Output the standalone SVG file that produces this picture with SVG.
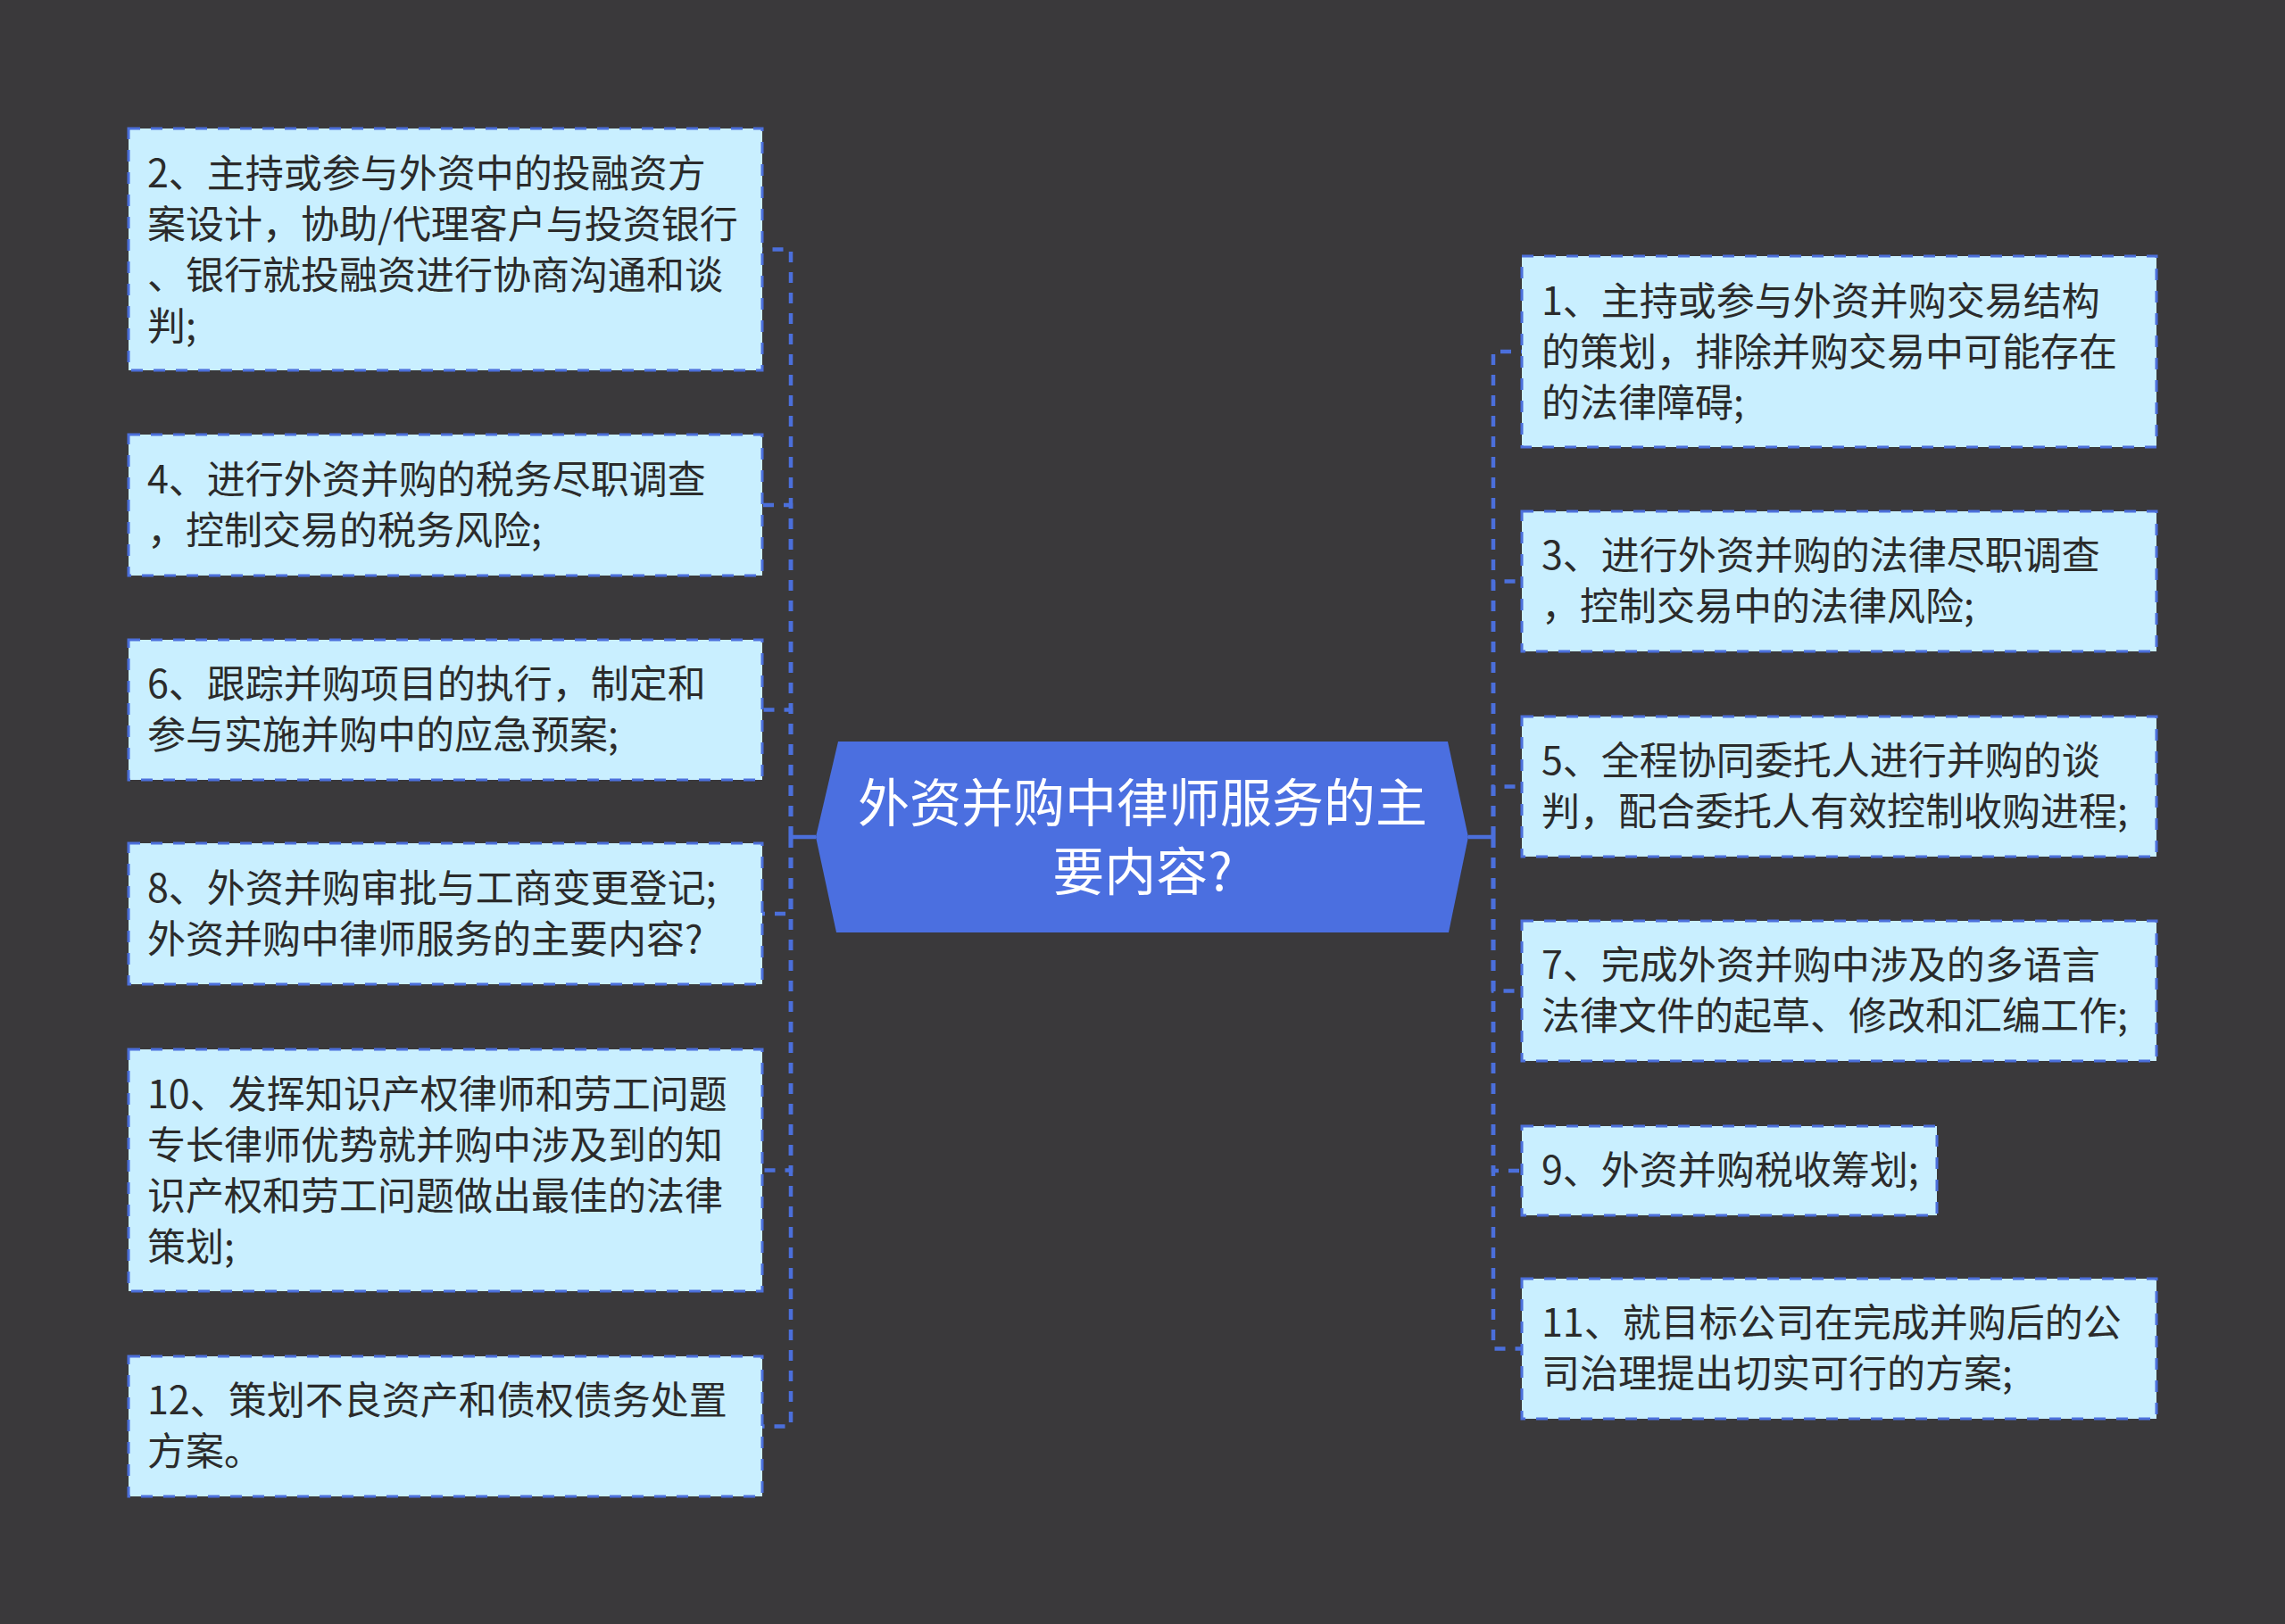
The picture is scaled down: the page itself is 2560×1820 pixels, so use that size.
<svg xmlns="http://www.w3.org/2000/svg" width="2560" height="1820" viewBox="0 0 2560 1820">
<style>
.bg{fill:#3a393b}
.box{fill:#c9efff;stroke:#4b6fdb;stroke-width:3;stroke-dasharray:13 12}
.t{font-family:"Noto Sans CJK SC","Noto Sans",sans-serif;font-size:43px;fill:#2b2b2b}
.ct{font-family:"Noto Sans CJK SC","Noto Sans",sans-serif;font-size:58px;fill:#ffffff;text-anchor:middle}
.c{fill:none;stroke:#4b6fdb;stroke-width:4.5;stroke-dasharray:12 11}
.trunk{fill:none;stroke:#4b6fdb;stroke-width:4.5}
.center{fill:#4b6fe0}
</style>
<rect class="bg" x="0" y="0" width="2560" height="1820"/>
<g id="connectors">
<line class="trunk" x1="914" y1="938" x2="886" y2="938"/>
<line class="trunk" x1="1645" y1="938" x2="1673" y2="938"/>
<path class="c" d="M886,938 V279.5 H854"/>
<path class="c" d="M886,938 V566 H854"/>
<path class="c" d="M886,938 V795.5 H854"/>
<path class="c" d="M886,938 V1024 H854"/>
<path class="c" d="M886,938 V1311.5 H854"/>
<path class="c" d="M886,938 V1598.5 H854"/>
<path class="c" d="M1673,938 V394 H1705"/>
<path class="c" d="M1673,938 V651.5 H1705"/>
<path class="c" d="M1673,938 V881.5 H1705"/>
<path class="c" d="M1673,938 V1110.5 H1705"/>
<path class="c" d="M1673,938 V1312 H1705"/>
<path class="c" d="M1673,938 V1511.5 H1705"/>
</g>
<g id="root">
<polygon class="center" points="939,831 1622,831 1645,938 1623,1045 937,1045 914,938"/>
<text class="ct" x="1280" y="921">外资并购中律师服务的主</text>
<text class="ct" x="1280" y="998">要内容?</text>
</g>
<g id="n2">
<rect class="box" x="144" y="144" width="710" height="271"/>
<text class="t" x="165" y="210">2、主持或参与外资中的投融资方</text>
<text class="t" x="165" y="267">案设计，协助/代理客户与投资银行</text>
<text class="t" x="165" y="324">、银行就投融资进行协商沟通和谈</text>
<text class="t" x="165" y="381">判;</text>
</g>
<g id="n4">
<rect class="box" x="144" y="487" width="710" height="158"/>
<text class="t" x="165" y="553">4、进行外资并购的税务尽职调查</text>
<text class="t" x="165" y="610">，控制交易的税务风险;</text>
</g>
<g id="n6">
<rect class="box" x="144" y="717" width="710" height="157"/>
<text class="t" x="165" y="782">6、跟踪并购项目的执行，制定和</text>
<text class="t" x="165" y="839">参与实施并购中的应急预案;</text>
</g>
<g id="n8">
<rect class="box" x="144" y="945" width="710" height="158"/>
<text class="t" x="165" y="1011">8、外资并购审批与工商变更登记;</text>
<text class="t" x="165" y="1068">外资并购中律师服务的主要内容?</text>
</g>
<g id="n10">
<rect class="box" x="144" y="1176" width="710" height="271"/>
<text class="t" x="165" y="1242">10、发挥知识产权律师和劳工问题</text>
<text class="t" x="165" y="1299">专长律师优势就并购中涉及到的知</text>
<text class="t" x="165" y="1356">识产权和劳工问题做出最佳的法律</text>
<text class="t" x="165" y="1413">策划;</text>
</g>
<g id="n12">
<rect class="box" x="144" y="1520" width="710" height="157"/>
<text class="t" x="165" y="1585">12、策划不良资产和债权债务处置</text>
<text class="t" x="165" y="1642">方案。</text>
</g>
<g id="n1">
<rect class="box" x="1705" y="287" width="711" height="214"/>
<text class="t" x="1727" y="353">1、主持或参与外资并购交易结构</text>
<text class="t" x="1727" y="410">的策划，排除并购交易中可能存在</text>
<text class="t" x="1727" y="467">的法律障碍;</text>
</g>
<g id="n3">
<rect class="box" x="1705" y="573" width="711" height="157"/>
<text class="t" x="1727" y="638">3、进行外资并购的法律尽职调查</text>
<text class="t" x="1727" y="695">，控制交易中的法律风险;</text>
</g>
<g id="n5">
<rect class="box" x="1705" y="803" width="711" height="157"/>
<text class="t" x="1727" y="868">5、全程协同委托人进行并购的谈</text>
<text class="t" x="1727" y="925">判，配合委托人有效控制收购进程;</text>
</g>
<g id="n7">
<rect class="box" x="1705" y="1032" width="711" height="157"/>
<text class="t" x="1727" y="1097">7、完成外资并购中涉及的多语言</text>
<text class="t" x="1727" y="1154">法律文件的起草、修改和汇编工作;</text>
</g>
<g id="n9">
<rect class="box" x="1705" y="1262" width="465" height="100"/>
<text class="t" x="1727" y="1327">9、外资并购税收筹划;</text>
</g>
<g id="n11">
<rect class="box" x="1705" y="1433" width="711" height="157"/>
<text class="t" x="1727" y="1498">11、就目标公司在完成并购后的公</text>
<text class="t" x="1727" y="1555">司治理提出切实可行的方案;</text>
</g>
</svg>
